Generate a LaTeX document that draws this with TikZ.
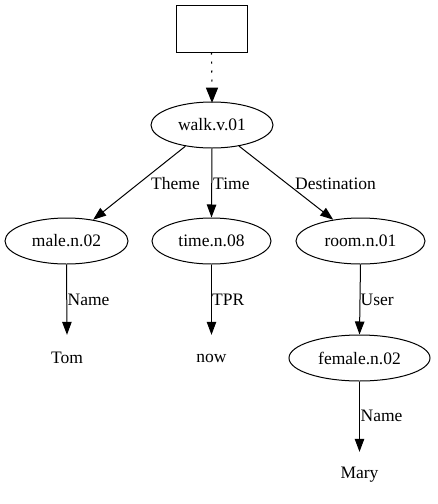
\documentclass[tikz,border=0pt]{standalone}
\usepackage{fontspec}
\setmainfont{Liberation Serif}
\usetikzlibrary{shapes.geometric,arrows.meta}
\begin{document}
\begin{tikzpicture}[x=1pt,y=-1pt,
  every node/.style={font=\fontsize{17.5}{20}\selectfont, inner sep=0pt},
  ell/.style={draw, ellipse, line width=1pt, minimum height=46pt},
  txt/.style={rectangle, minimum height=46pt, minimum width=60pt},
  lbl/.style={anchor=west},
  edge/.style={line width=1pt, -{Triangle[length=13pt,width=9.5pt]}},
  dotline/.style={line width=1.2pt, dash pattern=on 2pt off 7pt},
  tipshape/.style={fill=black, draw=black, line width=1pt, line join=miter, solid}
]
\useasboundingbox (0,0) rectangle (437,504);
\node[draw, rectangle, line width=1pt, minimum width=71pt, minimum height=47pt] (box) at (211.5,28.5) {};
\node[ell, minimum width=122pt] (walk) at (212,125) {walk.v.01};
\node[ell, minimum width=123pt] (male) at (66.5,241) {male.n.02};
\node[ell, minimum width=119pt] (time) at (211.5,241) {time.n.08};
\node[ell, minimum width=129pt] (room) at (360.5,241) {room.n.01};
\node[txt] (tom) at (67,358) {Tom};
\node[txt] (now) at (211.5,358) {now};
\node[ell, minimum width=141pt] (female) at (359.5,358) {female.n.02};
\node[txt] (mary) at (359.5,475) {Mary};

\coordinate (tipbase) at (212,88);
\draw[dotline] (box.south) -- (tipbase);
\path[tipshape] (206.5,88) -- (217.5,88) -- (212,101.5) -- cycle;
\draw[edge] (walk) -- (male);
\draw[edge] (walk.south) -- (time.north);
\draw[edge] (walk) -- (room);
\draw[edge] (male.south) -- (tom.north);
\draw[edge] (time.south) -- (now.north);
\draw[edge] (room.south) -- (female.north);
\draw[edge] (female.south) -- (mary.north);

\node[lbl] (lTheme) at (151,184) {Theme};
\node[lbl] (lTime) at (213,184) {Time};
\node[lbl] (lDest) at (295,184) {Destination};
\node[lbl] (lName1) at (67.5,300) {Name};
\node[lbl] (lTPR) at (212,300) {TPR};
\node[lbl] (lUser) at (360.5,300) {User};
\node[lbl] (lName2) at (360.5,416) {Name};
\end{tikzpicture}
\end{document}
